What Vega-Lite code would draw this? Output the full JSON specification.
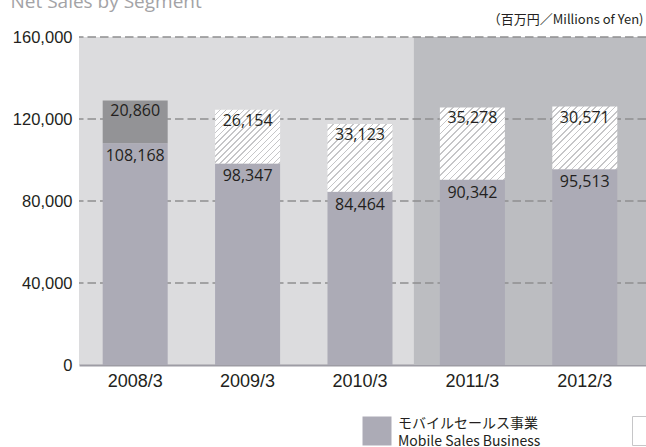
{
  "$schema": "https://vega.github.io/schema/vega-lite/v6.json",
  "width": 567,
  "height": 328,
  "autosize": {"type": "none"},
  "padding": {"left": 79, "top": 37, "right": 0, "bottom": 82},
  "background": "#ffffff",
  "config": {
    "view": {"fill": "#dcdcde", "stroke": null},
    "axisX": {
      "titleFont": "Noto Sans CJK JP", "titleFontSize": 13, "titleFontWeight": "normal", "titleColor": "#231f20",
      "titleAngle": 0, "titleAlign": "right", "titleBaseline": "alphabetic", "titleX": 564, "titleY": -342,
      "labelAngle": 0, "labelFont": "Liberation Sans", "labelFontSize": 18, "labelColor": "#231f20", "labelPadding": 7,
      "ticks": false, "tickSize": 0, "domain": true, "domainColor": "#9d9ca4", "domainWidth": 2, "grid": false, "zindex": 1
    },
    "axisY": {
      "titleFont": "Open Sans", "titleFontSize": 19, "titleFontWeight": "normal", "titleColor": "#a3a3a6",
      "titleAngle": 0, "titleAlign": "left", "titleBaseline": "alphabetic", "titleX": -69, "titleY": -30,
      "labelFont": "Liberation Sans", "labelFontSize": 16.5, "labelColor": "#231f20", "labelPadding": 7,
      "labelExpr": "format(datum.value, ',')",
      "ticks": false, "tickSize": 0, "domain": false, "grid": false
    }
  },
  "data": {"values": [
    {"year": "2008/3", "segment": "Mobile", "value": 108168},
    {"year": "2008/3", "segment": "Other", "value": 20860},
    {"year": "2009/3", "segment": "Mobile", "value": 98347},
    {"year": "2009/3", "segment": "Other", "value": 26154},
    {"year": "2010/3", "segment": "Mobile", "value": 84464},
    {"year": "2010/3", "segment": "Other", "value": 33123},
    {"year": "2011/3", "segment": "Mobile", "value": 90342},
    {"year": "2011/3", "segment": "Other", "value": 35278},
    {"year": "2012/3", "segment": "Mobile", "value": 95513},
    {"year": "2012/3", "segment": "Other", "value": 30571}
  ]},
  "transform": [
    {"stack": "value", "groupby": ["year"], "sort": [{"field": "segment", "order": "ascending"}], "as": ["v0", "v1"]}
  ],
  "layer": [
    {
      "data": {"values": [{"region": "forecast"}]},
      "mark": {"type": "rect", "color": "#bcbdc1"},
      "encoding": {
        "x": {"datum": "2011/3", "type": "nominal", "bandPosition": -0.4, "title": "（百万円／Millions of Yen)"},
        "x2": {"value": "width"},
        "y": {"value": 0},
        "y2": {"value": "height"}
      }
    },
    {
      "data": {"values": [{"v1": 40000}, {"v1": 80000}, {"v1": 120000}, {"v1": 160000}]},
      "mark": {"type": "rule", "color": "#8e8e90", "strokeDash": [8.5, 4], "strokeWidth": 1.5},
      "encoding": {
        "y": {"field": "v1", "type": "quantitative", "title": "Net Sales by Segment", "axis": {"values": [0, 40000, 80000, 120000, 160000], "format": ",", "title": "Net Sales by Segment"}}
      }
    },
    {
      "mark": {"type": "bar"},
      "encoding": {
        "x": {
          "field": "year", "type": "nominal", "title": "（百万円／Millions of Yen)",
          "scale": {"domain": ["2008/3", "2009/3", "2010/3", "2011/3", "2012/3"], "paddingInner": 0.4217, "paddingOuter": 0.2331, "align": 0.452, "round": false},
          "axis": {"title": "（百万円／Millions of Yen)"}
        },
        "y": {
          "field": "v1", "type": "quantitative", "title": "Net Sales by Segment",
          "scale": {"domain": [0, 160000], "nice": false, "zero": true},
          "axis": {"values": [0, 40000, 80000, 120000, 160000], "format": ",", "title": "Net Sales by Segment"}
        },
        "y2": {"field": "v0"},
        "fill": {
          "field": "segment", "type": "nominal",
          "scale": {"domain": ["Mobile", "Other"], "range": ["#acabb6", "#ffffff"]},
          "condition": [
            {"test": "datum.segment === 'Other' && datum.year === '2008/3'", "value": "#939396"},
            {"test": "datum.segment === 'Other' && datum.year === '2009/3'", "value": {"gradient": "linear", "x1": 0, "y1": 0, "x2": 1.0861, "y2": 0.8956, "stops": [
              {"offset": 0, "color": "#fff"}, {"offset": 0.0375, "color": "#fff"}, {"offset": 0.0375, "color": "#c6c6c8"}, {"offset": 0.05, "color": "#c6c6c8"},
              {"offset": 0.05, "color": "#fff"}, {"offset": 0.0875, "color": "#fff"}, {"offset": 0.0875, "color": "#c6c6c8"}, {"offset": 0.1, "color": "#c6c6c8"},
              {"offset": 0.1, "color": "#fff"}, {"offset": 0.1375, "color": "#fff"}, {"offset": 0.1375, "color": "#c6c6c8"}, {"offset": 0.15, "color": "#c6c6c8"},
              {"offset": 0.15, "color": "#fff"}, {"offset": 0.1875, "color": "#fff"}, {"offset": 0.1875, "color": "#c6c6c8"}, {"offset": 0.2, "color": "#c6c6c8"},
              {"offset": 0.2, "color": "#fff"}, {"offset": 0.2375, "color": "#fff"}, {"offset": 0.2375, "color": "#c6c6c8"}, {"offset": 0.25, "color": "#c6c6c8"},
              {"offset": 0.25, "color": "#fff"}, {"offset": 0.2875, "color": "#fff"}, {"offset": 0.2875, "color": "#c6c6c8"}, {"offset": 0.3, "color": "#c6c6c8"},
              {"offset": 0.3, "color": "#fff"}, {"offset": 0.3375, "color": "#fff"}, {"offset": 0.3375, "color": "#c6c6c8"}, {"offset": 0.35, "color": "#c6c6c8"},
              {"offset": 0.35, "color": "#fff"}, {"offset": 0.3875, "color": "#fff"}, {"offset": 0.3875, "color": "#c6c6c8"}, {"offset": 0.4, "color": "#c6c6c8"},
              {"offset": 0.4, "color": "#fff"}, {"offset": 0.4375, "color": "#fff"}, {"offset": 0.4375, "color": "#c6c6c8"}, {"offset": 0.45, "color": "#c6c6c8"},
              {"offset": 0.45, "color": "#fff"}, {"offset": 0.4875, "color": "#fff"}, {"offset": 0.4875, "color": "#c6c6c8"}, {"offset": 0.5, "color": "#c6c6c8"},
              {"offset": 0.5, "color": "#fff"}, {"offset": 0.5375, "color": "#fff"}, {"offset": 0.5375, "color": "#c6c6c8"}, {"offset": 0.55, "color": "#c6c6c8"},
              {"offset": 0.55, "color": "#fff"}, {"offset": 0.5875, "color": "#fff"}, {"offset": 0.5875, "color": "#c6c6c8"}, {"offset": 0.6, "color": "#c6c6c8"},
              {"offset": 0.6, "color": "#fff"}, {"offset": 0.6375, "color": "#fff"}, {"offset": 0.6375, "color": "#c6c6c8"}, {"offset": 0.65, "color": "#c6c6c8"},
              {"offset": 0.65, "color": "#fff"}, {"offset": 0.6875, "color": "#fff"}, {"offset": 0.6875, "color": "#c6c6c8"}, {"offset": 0.7, "color": "#c6c6c8"},
              {"offset": 0.7, "color": "#fff"}, {"offset": 0.7375, "color": "#fff"}, {"offset": 0.7375, "color": "#c6c6c8"}, {"offset": 0.75, "color": "#c6c6c8"},
              {"offset": 0.75, "color": "#fff"}, {"offset": 0.7875, "color": "#fff"}, {"offset": 0.7875, "color": "#c6c6c8"}, {"offset": 0.8, "color": "#c6c6c8"},
              {"offset": 0.8, "color": "#fff"}, {"offset": 0.8375, "color": "#fff"}, {"offset": 0.8375, "color": "#c6c6c8"}, {"offset": 0.85, "color": "#c6c6c8"},
              {"offset": 0.85, "color": "#fff"}, {"offset": 0.8875, "color": "#fff"}, {"offset": 0.8875, "color": "#c6c6c8"}, {"offset": 0.9, "color": "#c6c6c8"},
              {"offset": 0.9, "color": "#fff"}, {"offset": 0.9375, "color": "#fff"}, {"offset": 0.9375, "color": "#c6c6c8"}, {"offset": 0.95, "color": "#c6c6c8"},
              {"offset": 0.95, "color": "#fff"}, {"offset": 0.9875, "color": "#fff"}, {"offset": 0.9875, "color": "#c6c6c8"}, {"offset": 1, "color": "#c6c6c8"}
            ]}},
            {"test": "datum.segment === 'Other' && datum.year === '2010/3'", "value": {"gradient": "linear", "x1": 0, "y1": 0, "x2": 0.9777, "y2": 1.0213, "stops": [
              {"offset": 0, "color": "#fff"}, {"offset": 0.0375, "color": "#fff"}, {"offset": 0.0375, "color": "#c6c6c8"}, {"offset": 0.05, "color": "#c6c6c8"},
              {"offset": 0.05, "color": "#fff"}, {"offset": 0.0875, "color": "#fff"}, {"offset": 0.0875, "color": "#c6c6c8"}, {"offset": 0.1, "color": "#c6c6c8"},
              {"offset": 0.1, "color": "#fff"}, {"offset": 0.1375, "color": "#fff"}, {"offset": 0.1375, "color": "#c6c6c8"}, {"offset": 0.15, "color": "#c6c6c8"},
              {"offset": 0.15, "color": "#fff"}, {"offset": 0.1875, "color": "#fff"}, {"offset": 0.1875, "color": "#c6c6c8"}, {"offset": 0.2, "color": "#c6c6c8"},
              {"offset": 0.2, "color": "#fff"}, {"offset": 0.2375, "color": "#fff"}, {"offset": 0.2375, "color": "#c6c6c8"}, {"offset": 0.25, "color": "#c6c6c8"},
              {"offset": 0.25, "color": "#fff"}, {"offset": 0.2875, "color": "#fff"}, {"offset": 0.2875, "color": "#c6c6c8"}, {"offset": 0.3, "color": "#c6c6c8"},
              {"offset": 0.3, "color": "#fff"}, {"offset": 0.3375, "color": "#fff"}, {"offset": 0.3375, "color": "#c6c6c8"}, {"offset": 0.35, "color": "#c6c6c8"},
              {"offset": 0.35, "color": "#fff"}, {"offset": 0.3875, "color": "#fff"}, {"offset": 0.3875, "color": "#c6c6c8"}, {"offset": 0.4, "color": "#c6c6c8"},
              {"offset": 0.4, "color": "#fff"}, {"offset": 0.4375, "color": "#fff"}, {"offset": 0.4375, "color": "#c6c6c8"}, {"offset": 0.45, "color": "#c6c6c8"},
              {"offset": 0.45, "color": "#fff"}, {"offset": 0.4875, "color": "#fff"}, {"offset": 0.4875, "color": "#c6c6c8"}, {"offset": 0.5, "color": "#c6c6c8"},
              {"offset": 0.5, "color": "#fff"}, {"offset": 0.5375, "color": "#fff"}, {"offset": 0.5375, "color": "#c6c6c8"}, {"offset": 0.55, "color": "#c6c6c8"},
              {"offset": 0.55, "color": "#fff"}, {"offset": 0.5875, "color": "#fff"}, {"offset": 0.5875, "color": "#c6c6c8"}, {"offset": 0.6, "color": "#c6c6c8"},
              {"offset": 0.6, "color": "#fff"}, {"offset": 0.6375, "color": "#fff"}, {"offset": 0.6375, "color": "#c6c6c8"}, {"offset": 0.65, "color": "#c6c6c8"},
              {"offset": 0.65, "color": "#fff"}, {"offset": 0.6875, "color": "#fff"}, {"offset": 0.6875, "color": "#c6c6c8"}, {"offset": 0.7, "color": "#c6c6c8"},
              {"offset": 0.7, "color": "#fff"}, {"offset": 0.7375, "color": "#fff"}, {"offset": 0.7375, "color": "#c6c6c8"}, {"offset": 0.75, "color": "#c6c6c8"},
              {"offset": 0.75, "color": "#fff"}, {"offset": 0.7875, "color": "#fff"}, {"offset": 0.7875, "color": "#c6c6c8"}, {"offset": 0.8, "color": "#c6c6c8"},
              {"offset": 0.8, "color": "#fff"}, {"offset": 0.8375, "color": "#fff"}, {"offset": 0.8375, "color": "#c6c6c8"}, {"offset": 0.85, "color": "#c6c6c8"},
              {"offset": 0.85, "color": "#fff"}, {"offset": 0.8875, "color": "#fff"}, {"offset": 0.8875, "color": "#c6c6c8"}, {"offset": 0.9, "color": "#c6c6c8"},
              {"offset": 0.9, "color": "#fff"}, {"offset": 0.9375, "color": "#fff"}, {"offset": 0.9375, "color": "#c6c6c8"}, {"offset": 0.95, "color": "#c6c6c8"},
              {"offset": 0.95, "color": "#fff"}, {"offset": 0.9875, "color": "#fff"}, {"offset": 0.9875, "color": "#c6c6c8"}, {"offset": 1, "color": "#c6c6c8"}
            ]}},
            {"test": "datum.segment === 'Other' && datum.year === '2011/3'", "value": {"gradient": "linear", "x1": 0, "y1": 0, "x2": 0.9442, "y2": 1.0502, "stops": [
              {"offset": 0, "color": "#fff"}, {"offset": 0.0375, "color": "#fff"}, {"offset": 0.0375, "color": "#c6c6c8"}, {"offset": 0.05, "color": "#c6c6c8"},
              {"offset": 0.05, "color": "#fff"}, {"offset": 0.0875, "color": "#fff"}, {"offset": 0.0875, "color": "#c6c6c8"}, {"offset": 0.1, "color": "#c6c6c8"},
              {"offset": 0.1, "color": "#fff"}, {"offset": 0.1375, "color": "#fff"}, {"offset": 0.1375, "color": "#c6c6c8"}, {"offset": 0.15, "color": "#c6c6c8"},
              {"offset": 0.15, "color": "#fff"}, {"offset": 0.1875, "color": "#fff"}, {"offset": 0.1875, "color": "#c6c6c8"}, {"offset": 0.2, "color": "#c6c6c8"},
              {"offset": 0.2, "color": "#fff"}, {"offset": 0.2375, "color": "#fff"}, {"offset": 0.2375, "color": "#c6c6c8"}, {"offset": 0.25, "color": "#c6c6c8"},
              {"offset": 0.25, "color": "#fff"}, {"offset": 0.2875, "color": "#fff"}, {"offset": 0.2875, "color": "#c6c6c8"}, {"offset": 0.3, "color": "#c6c6c8"},
              {"offset": 0.3, "color": "#fff"}, {"offset": 0.3375, "color": "#fff"}, {"offset": 0.3375, "color": "#c6c6c8"}, {"offset": 0.35, "color": "#c6c6c8"},
              {"offset": 0.35, "color": "#fff"}, {"offset": 0.3875, "color": "#fff"}, {"offset": 0.3875, "color": "#c6c6c8"}, {"offset": 0.4, "color": "#c6c6c8"},
              {"offset": 0.4, "color": "#fff"}, {"offset": 0.4375, "color": "#fff"}, {"offset": 0.4375, "color": "#c6c6c8"}, {"offset": 0.45, "color": "#c6c6c8"},
              {"offset": 0.45, "color": "#fff"}, {"offset": 0.4875, "color": "#fff"}, {"offset": 0.4875, "color": "#c6c6c8"}, {"offset": 0.5, "color": "#c6c6c8"},
              {"offset": 0.5, "color": "#fff"}, {"offset": 0.5375, "color": "#fff"}, {"offset": 0.5375, "color": "#c6c6c8"}, {"offset": 0.55, "color": "#c6c6c8"},
              {"offset": 0.55, "color": "#fff"}, {"offset": 0.5875, "color": "#fff"}, {"offset": 0.5875, "color": "#c6c6c8"}, {"offset": 0.6, "color": "#c6c6c8"},
              {"offset": 0.6, "color": "#fff"}, {"offset": 0.6375, "color": "#fff"}, {"offset": 0.6375, "color": "#c6c6c8"}, {"offset": 0.65, "color": "#c6c6c8"},
              {"offset": 0.65, "color": "#fff"}, {"offset": 0.6875, "color": "#fff"}, {"offset": 0.6875, "color": "#c6c6c8"}, {"offset": 0.7, "color": "#c6c6c8"},
              {"offset": 0.7, "color": "#fff"}, {"offset": 0.7375, "color": "#fff"}, {"offset": 0.7375, "color": "#c6c6c8"}, {"offset": 0.75, "color": "#c6c6c8"},
              {"offset": 0.75, "color": "#fff"}, {"offset": 0.7875, "color": "#fff"}, {"offset": 0.7875, "color": "#c6c6c8"}, {"offset": 0.8, "color": "#c6c6c8"},
              {"offset": 0.8, "color": "#fff"}, {"offset": 0.8375, "color": "#fff"}, {"offset": 0.8375, "color": "#c6c6c8"}, {"offset": 0.85, "color": "#c6c6c8"},
              {"offset": 0.85, "color": "#fff"}, {"offset": 0.8875, "color": "#fff"}, {"offset": 0.8875, "color": "#c6c6c8"}, {"offset": 0.9, "color": "#c6c6c8"},
              {"offset": 0.9, "color": "#fff"}, {"offset": 0.9375, "color": "#fff"}, {"offset": 0.9375, "color": "#c6c6c8"}, {"offset": 0.95, "color": "#c6c6c8"},
              {"offset": 0.95, "color": "#fff"}, {"offset": 0.9875, "color": "#fff"}, {"offset": 0.9875, "color": "#c6c6c8"}, {"offset": 1, "color": "#c6c6c8"}
            ]}},
            {"test": "datum.segment === 'Other' && datum.year === '2012/3'", "value": {"gradient": "linear", "x1": 0, "y1": 0, "x2": 1.0177, "y2": 0.9817, "stops": [
              {"offset": 0, "color": "#fff"}, {"offset": 0.0375, "color": "#fff"}, {"offset": 0.0375, "color": "#c6c6c8"}, {"offset": 0.05, "color": "#c6c6c8"},
              {"offset": 0.05, "color": "#fff"}, {"offset": 0.0875, "color": "#fff"}, {"offset": 0.0875, "color": "#c6c6c8"}, {"offset": 0.1, "color": "#c6c6c8"},
              {"offset": 0.1, "color": "#fff"}, {"offset": 0.1375, "color": "#fff"}, {"offset": 0.1375, "color": "#c6c6c8"}, {"offset": 0.15, "color": "#c6c6c8"},
              {"offset": 0.15, "color": "#fff"}, {"offset": 0.1875, "color": "#fff"}, {"offset": 0.1875, "color": "#c6c6c8"}, {"offset": 0.2, "color": "#c6c6c8"},
              {"offset": 0.2, "color": "#fff"}, {"offset": 0.2375, "color": "#fff"}, {"offset": 0.2375, "color": "#c6c6c8"}, {"offset": 0.25, "color": "#c6c6c8"},
              {"offset": 0.25, "color": "#fff"}, {"offset": 0.2875, "color": "#fff"}, {"offset": 0.2875, "color": "#c6c6c8"}, {"offset": 0.3, "color": "#c6c6c8"},
              {"offset": 0.3, "color": "#fff"}, {"offset": 0.3375, "color": "#fff"}, {"offset": 0.3375, "color": "#c6c6c8"}, {"offset": 0.35, "color": "#c6c6c8"},
              {"offset": 0.35, "color": "#fff"}, {"offset": 0.3875, "color": "#fff"}, {"offset": 0.3875, "color": "#c6c6c8"}, {"offset": 0.4, "color": "#c6c6c8"},
              {"offset": 0.4, "color": "#fff"}, {"offset": 0.4375, "color": "#fff"}, {"offset": 0.4375, "color": "#c6c6c8"}, {"offset": 0.45, "color": "#c6c6c8"},
              {"offset": 0.45, "color": "#fff"}, {"offset": 0.4875, "color": "#fff"}, {"offset": 0.4875, "color": "#c6c6c8"}, {"offset": 0.5, "color": "#c6c6c8"},
              {"offset": 0.5, "color": "#fff"}, {"offset": 0.5375, "color": "#fff"}, {"offset": 0.5375, "color": "#c6c6c8"}, {"offset": 0.55, "color": "#c6c6c8"},
              {"offset": 0.55, "color": "#fff"}, {"offset": 0.5875, "color": "#fff"}, {"offset": 0.5875, "color": "#c6c6c8"}, {"offset": 0.6, "color": "#c6c6c8"},
              {"offset": 0.6, "color": "#fff"}, {"offset": 0.6375, "color": "#fff"}, {"offset": 0.6375, "color": "#c6c6c8"}, {"offset": 0.65, "color": "#c6c6c8"},
              {"offset": 0.65, "color": "#fff"}, {"offset": 0.6875, "color": "#fff"}, {"offset": 0.6875, "color": "#c6c6c8"}, {"offset": 0.7, "color": "#c6c6c8"},
              {"offset": 0.7, "color": "#fff"}, {"offset": 0.7375, "color": "#fff"}, {"offset": 0.7375, "color": "#c6c6c8"}, {"offset": 0.75, "color": "#c6c6c8"},
              {"offset": 0.75, "color": "#fff"}, {"offset": 0.7875, "color": "#fff"}, {"offset": 0.7875, "color": "#c6c6c8"}, {"offset": 0.8, "color": "#c6c6c8"},
              {"offset": 0.8, "color": "#fff"}, {"offset": 0.8375, "color": "#fff"}, {"offset": 0.8375, "color": "#c6c6c8"}, {"offset": 0.85, "color": "#c6c6c8"},
              {"offset": 0.85, "color": "#fff"}, {"offset": 0.8875, "color": "#fff"}, {"offset": 0.8875, "color": "#c6c6c8"}, {"offset": 0.9, "color": "#c6c6c8"},
              {"offset": 0.9, "color": "#fff"}, {"offset": 0.9375, "color": "#fff"}, {"offset": 0.9375, "color": "#c6c6c8"}, {"offset": 0.95, "color": "#c6c6c8"},
              {"offset": 0.95, "color": "#fff"}, {"offset": 0.9875, "color": "#fff"}, {"offset": 0.9875, "color": "#c6c6c8"}, {"offset": 1, "color": "#c6c6c8"}
            ]}}
          ],
          "legend": {
            "orient": "none", "legendX": 283, "legendY": 379, "direction": "horizontal", "columns": 2, "columnPadding": 89,
            "title": null, "padding": 0, "symbolType": "square", "symbolSize": 841, "symbolStrokeWidth": 0,
            "labelFont": "Noto Sans CJK JP", "labelFontSize": 14, "labelColor": "#231f20", "labelOffset": 6, "labelLimit": 300,
            "labelExpr": "datum.value === 'Mobile' ? ['モバイルセールス事業', 'Mobile Sales Business'] : ['その他事業', 'Other Businesses']",
            "encode": {
              "symbols": {"update": {
                "fill": [
                  {"test": "datum.value === 'Other'", "value": {"gradient": "linear", "x1": 0, "y1": 0, "x2": 1, "y2": 1, "stops": [
                    {"offset": 0, "color": "#fff"}, {"offset": 0.075, "color": "#fff"}, {"offset": 0.075, "color": "#c6c6c8"}, {"offset": 0.1, "color": "#c6c6c8"},
                    {"offset": 0.1, "color": "#fff"}, {"offset": 0.175, "color": "#fff"}, {"offset": 0.175, "color": "#c6c6c8"}, {"offset": 0.2, "color": "#c6c6c8"},
                    {"offset": 0.2, "color": "#fff"}, {"offset": 0.275, "color": "#fff"}, {"offset": 0.275, "color": "#c6c6c8"}, {"offset": 0.3, "color": "#c6c6c8"},
                    {"offset": 0.3, "color": "#fff"}, {"offset": 0.375, "color": "#fff"}, {"offset": 0.375, "color": "#c6c6c8"}, {"offset": 0.4, "color": "#c6c6c8"},
                    {"offset": 0.4, "color": "#fff"}, {"offset": 0.475, "color": "#fff"}, {"offset": 0.475, "color": "#c6c6c8"}, {"offset": 0.5, "color": "#c6c6c8"},
                    {"offset": 0.5, "color": "#fff"}, {"offset": 0.575, "color": "#fff"}, {"offset": 0.575, "color": "#c6c6c8"}, {"offset": 0.6, "color": "#c6c6c8"},
                    {"offset": 0.6, "color": "#fff"}, {"offset": 0.675, "color": "#fff"}, {"offset": 0.675, "color": "#c6c6c8"}, {"offset": 0.7, "color": "#c6c6c8"},
                    {"offset": 0.7, "color": "#fff"}, {"offset": 0.775, "color": "#fff"}, {"offset": 0.775, "color": "#c6c6c8"}, {"offset": 0.8, "color": "#c6c6c8"},
                    {"offset": 0.8, "color": "#fff"}, {"offset": 0.875, "color": "#fff"}, {"offset": 0.875, "color": "#c6c6c8"}, {"offset": 0.9, "color": "#c6c6c8"},
                    {"offset": 0.9, "color": "#fff"}, {"offset": 0.975, "color": "#fff"}, {"offset": 0.975, "color": "#c6c6c8"}, {"offset": 1, "color": "#c6c6c8"}
                  ]}},
                  {"value": "#acabb6"}
                ],
                "stroke": [
                  {"test": "datum.value === 'Other'", "value": "#c6c6c8"},
                  {"value": null}
                ],
                "strokeWidth": {"value": 1}
              }},
              "labels": {"update": {"lineHeight": {"value": 18}, "dy": {"value": -7}}}
            }
          }
        }
      }
    },
    {
      "transform": [{"filter": "datum.segment === 'Other'"}],
      "mark": {"type": "text", "font": "Open Sans", "fontSize": 16, "color": "#231f20", "baseline": "middle", "dy": 11},
      "encoding": {
        "x": {"field": "year", "type": "nominal", "title": "（百万円／Millions of Yen)"},
        "y": {"field": "v1", "type": "quantitative", "title": "Net Sales by Segment", "axis": {"values": [0, 40000, 80000, 120000, 160000], "format": ",", "title": "Net Sales by Segment"}},
        "text": {"field": "value", "type": "quantitative", "format": ","}
      }
    },
    {
      "transform": [{"filter": "datum.segment === 'Mobile'"}],
      "mark": {"type": "text", "font": "Open Sans", "fontSize": 16, "color": "#231f20", "baseline": "middle", "dy": 13},
      "encoding": {
        "x": {"field": "year", "type": "nominal", "title": "（百万円／Millions of Yen)"},
        "y": {"field": "v1", "type": "quantitative", "title": "Net Sales by Segment", "axis": {"values": [0, 40000, 80000, 120000, 160000], "format": ",", "title": "Net Sales by Segment"}},
        "text": {"field": "value", "type": "quantitative", "format": ","}
      }
    }
  ]
}
